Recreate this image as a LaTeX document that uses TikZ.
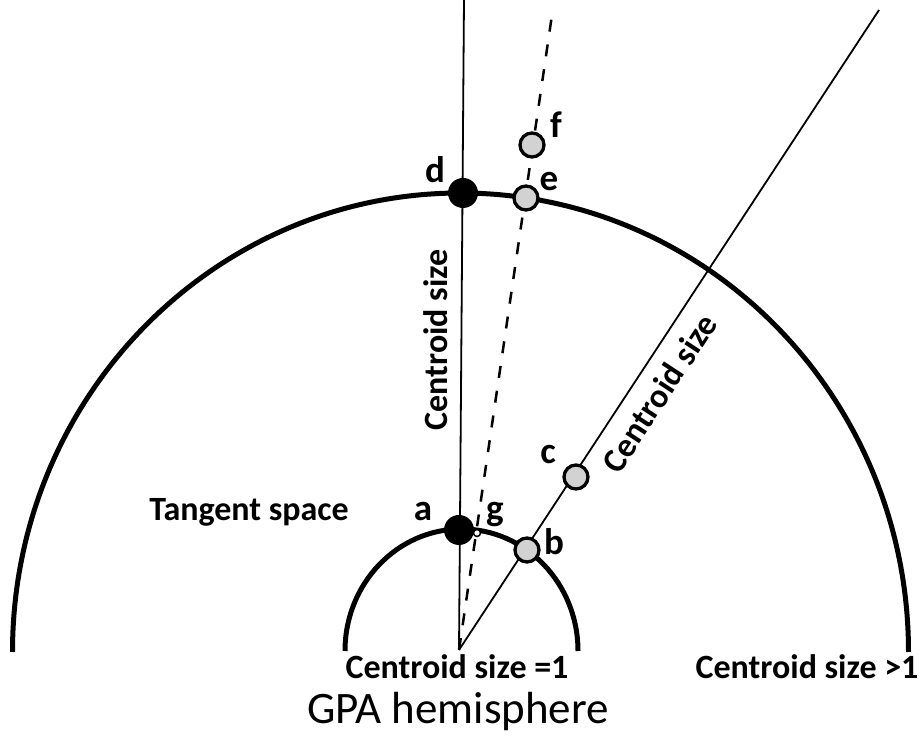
\documentclass[tikz,border=0pt]{standalone}
\usepackage{fontspec}
\setmainfont{Carlito}
\definecolor{ballgray}{RGB}{210,210,210}
\begin{document}
\begin{tikzpicture}[x=1pt,y=1pt]
\tikzset{
 arcline/.style={line width=5pt},
 thinline/.style={line width=1.8pt},
 dashline/.style={line width=2.5pt, dash pattern=on 12pt off 13pt},
 blackball/.style={circle, fill=black, minimum size=30pt, inner sep=0pt},
 grayball/.style={circle, draw=black, line width=3.3pt, fill=ballgray, minimum size=24pt, inner sep=0pt},
 tinyball/.style={circle, draw=black, line width=1.5pt, fill=white, minimum size=7pt, inner sep=0pt},
 lbl/.style={font=\bfseries\fontsize{34}{38}\selectfont, inner sep=0pt},
 letter/.style={font=\bfseries\fontsize{37}{41}\selectfont, inner sep=0pt},
 title/.style={font=\fontsize{45}{50}\selectfont, inner sep=0pt},
}
\useasboundingbox (0,0) rectangle (921,736);
\coordinate (O) at (459,86);
\coordinate (T1) at (464,736);
\coordinate (T2) at (553,728);
\coordinate (T3) at (879,726);
\coordinate (S0) at (578,85);
\coordinate (L0) at (908.5,84);
% arcs
\draw[arcline] (S0) arc[start angle=0,end angle=180,x radius=116.5,y radius=122];
\draw[arcline] (L0) arc[start angle=0,end angle=180,x radius=448,y radius=459];
% lines
\draw[thinline] (O) -- (T1);
\draw[dashline] (O) -- (T2);
\draw[thinline] (O) -- (T3);
% balls
\node[blackball] (a) at (459,206) {};
\node[blackball] (d) at (463,543) {};
\node[grayball] (e) at (526,538) {};
\node[grayball] (f) at (532,591) {};
\node[grayball] (b) at (527,186) {};
\node[grayball] (c) at (576,259) {};
\node[tinyball] (g) at (477,203) {};
% letters
\node[letter] (la) at (423,225) {a};
\node[letter] (lg) at (495,221) {g};
\node[letter] (lb) at (554,194) {b};
\node[letter] (lc) at (548,281) {c};
\node[letter] (ld) at (435,566) {d};
\node[letter] (le) at (549,554) {e};
\node[letter] (lf) at (556,611) {f};
% labels
\node[lbl] (ts) at (249,224) {Tangent space};
\node[lbl, rotate=90] (cv) at (436,396) {Centroid size};
\node[lbl, rotate=56.7] (cd) at (659,343) {Centroid size};
\node[lbl] (c1) at (457,69) {Centroid size =1};
\node[lbl] (c2) at (807,69) {Centroid size >1};
\node[title] (gpa) at (458,24) {GPA hemisphere};
\end{tikzpicture}
\end{document}
